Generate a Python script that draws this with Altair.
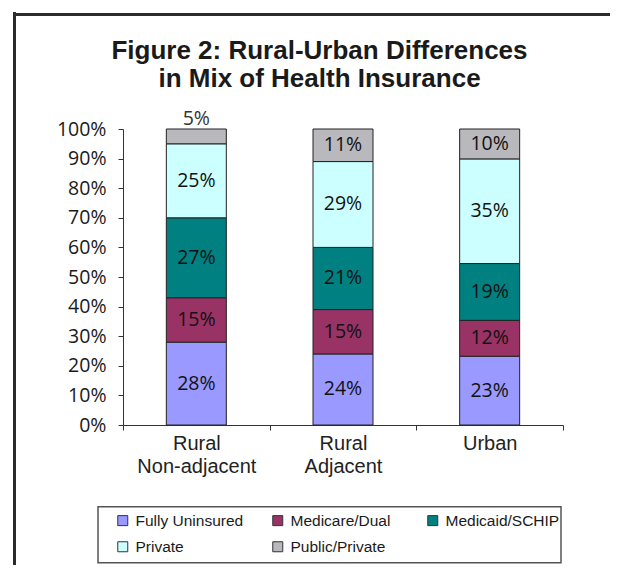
import altair as alt
import pandas as pd

categories = ["Rural Non-adjacent", "Rural Adjacent", "Urban"]
types = ["Fully Uninsured", "Medicare/Dual", "Medicaid/SCHIP", "Private", "Public/Private"]
fully_uninsured = [28, 24, 23]
medicare_dual = [15, 15, 12]
medicaid_schip = [27, 21, 19]
private = [25, 29, 35]
public_private = [5, 11, 10]
colors = ["#9999FF", "#993366", "#008080", "#CCFFFF", "#B9B9BD"]
y_ticks = [0, 0.1, 0.2, 0.3, 0.4, 0.5, 0.6, 0.7, 0.8, 0.9, 1.0]
title_lines = ["Figure 2: Rural-Urban Differences", "in Mix of Health Insurance"]

series = [fully_uninsured, medicare_dual, medicaid_schip, private, public_private]
rows = []
for k, (t, vals) in enumerate(zip(types, series)):
    for c, v in zip(categories, vals):
        rows.append({"category": c, "type": t, "order": k, "value": v})
df = pd.DataFrame(rows)

x_enc = alt.X(
    "category:N",
    sort=categories,
    scale=alt.Scale(paddingInner=0, paddingOuter=0),
    axis=alt.Axis(
        title=None, labelAngle=0, tickBand="extent",
        labelExpr="split(datum.label, ' ')",
        labelFont="Liberation Sans", labelFontSize=20, labelLineHeight=23,
        labelColor="#222222", tickSize=5, domainColor="#333333", tickColor="#333333",
        labelPadding=3, labelOverlap=False, labelFlush=False, domainWidth=1,
    ),
)
y_scale = alt.Scale(domain=[0, 1], nice=False)
y_axis = alt.Axis(
    values=y_ticks, format=".0%", title=None, grid=False, tickSize=5,
    labelPadding=12, labelFont="Open Sans", labelFontSize=19.5,
    labelColor="#1a1a1a", domainColor="#333333", tickColor="#333333",
)

base = alt.Chart(df).transform_stack(
    stack="value", groupby=["category"], as_=["y0", "y1"], offset="normalize",
    sort=[alt.SortField("order", order="ascending")],
).transform_calculate(
    ymid="(datum.y0 + datum.y1) / 2",
    label="datum.value + '%'",
    inside="datum.value >= 8",
)

bars = base.mark_bar(size=60, stroke="#222222", strokeWidth=1).encode(
    x=x_enc,
    y=alt.Y("y0:Q", scale=y_scale, axis=y_axis),
    y2="y1:Q",
    color=alt.Color(
        "type:N",
        scale=alt.Scale(domain=types, range=colors),
        legend=alt.Legend(
            title=None, orient="none", legendX=-8, legendY=383.5,
            direction="horizontal",
            columns=3, gridAlign="all", columnPadding=20, rowPadding=9.5,
            symbolType="square", symbolSize=100, symbolStrokeColor="#333333",
            symbolStrokeWidth=1, symbolOpacity=1,
            labelFont="Liberation Sans", labelFontSize=15.5, labelColor="#1a1a1a",
            labelOffset=5, padding=0,
        ),
    ),
)

text_in = base.transform_filter("datum.inside").mark_text(
    font="Open Sans", fontSize=19.5, color="#111111", baseline="middle"
).encode(
    x=x_enc,
    y=alt.Y("ymid:Q", scale=y_scale, axis=y_axis),
    text="label:N",
)

text_out = base.transform_filter("!datum.inside").mark_text(
    font="Open Sans", fontSize=19.5, color="#333333", baseline="alphabetic", dy=-4
).encode(
    x=x_enc,
    y=alt.Y("y1:Q", scale=y_scale, axis=y_axis),
    text="label:N",
)

one = pd.DataFrame({"k": [0]})
frame_left = alt.Chart(one).mark_rule(color="#2b2b2b", strokeWidth=3).encode(
    x=alt.value(-108.5), y=alt.value(-117), y2=alt.value(437)
)
frame_top = alt.Chart(one).mark_rule(color="#2b2b2b", strokeWidth=3).encode(
    x=alt.value(-110), x2=alt.value(487), y=alt.value(-114.5)
)
legend_box = alt.Chart(one).mark_rect(
    fillOpacity=0, stroke="#555555", strokeWidth=1.5
).encode(
    x=alt.value(-25), x2=alt.value(438), y=alt.value(377.7), y2=alt.value(433.7)
)
title = alt.Chart(one).mark_text(
    text=title_lines, font="Liberation Sans", fontSize=26, fontWeight="bold",
    lineHeight=28, align="center", baseline="alphabetic", color="#1a1a1a",
).encode(x=alt.value(196.5), y=alt.value(-70))

chart = alt.layer(
    frame_left, frame_top, legend_box, bars, text_in, text_out, title
).properties(
    width=440, height=296,
    padding={"left": 115, "top": 121, "right": 47, "bottom": 140},
    autosize=alt.AutoSizeParams(type="none"),
    background="white",
).configure_view(strokeWidth=0)

chart.save("out.html", embed_options={"renderer": "svg", "actions": False})
